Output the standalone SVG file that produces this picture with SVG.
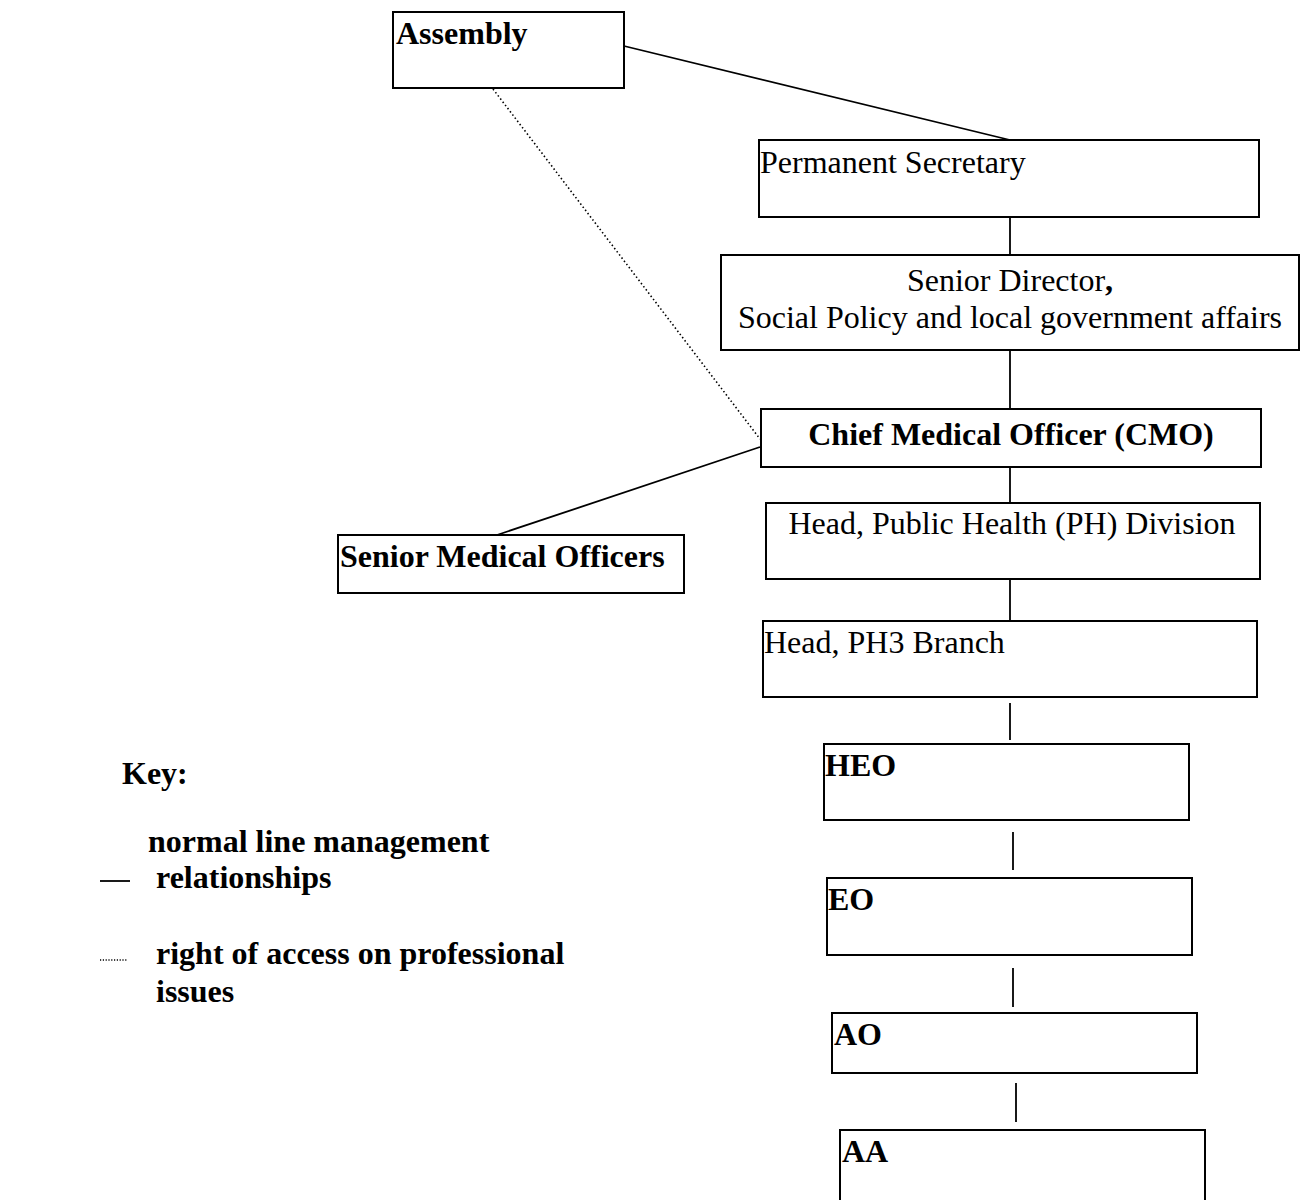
<svg xmlns="http://www.w3.org/2000/svg" width="1302" height="1200" viewBox="0 0 1302 1200">
  <style>
    .box { fill: #ffffff; stroke: #000000; stroke-width: 2; }
    .link { fill: none; stroke: #000000; stroke-width: 1.8; }
    .access { fill: none; stroke: #000000; stroke-width: 1.6; stroke-dasharray: 1.5 2.5; }
    .access-key { fill: none; stroke: #000000; stroke-width: 1.4; stroke-dasharray: 1.2 1.6; }
    text { font-family: "Liberation Serif", "Times New Roman", serif; font-size: 32px; fill: #000000; }
    .b { font-weight: bold; }
  </style>
  <rect width="1302" height="1200" fill="#ffffff"/>

  <!-- connectors -->
  <g id="connectors">
    <line class="link" x1="624" y1="46" x2="1010" y2="140"/>
    <line class="access" x1="493" y1="89" x2="760" y2="439"/>
    <line class="link" x1="497" y1="535" x2="760" y2="447"/>
    <line class="link" x1="1010" y1="218" x2="1010" y2="255"/>
    <line class="link" x1="1010" y1="350" x2="1010" y2="409"/>
    <line class="link" x1="1010" y1="467" x2="1010" y2="503"/>
    <line class="link" x1="1010" y1="579" x2="1010" y2="621"/>
    <line class="link" x1="1010" y1="703" x2="1010" y2="740"/>
    <line class="link" x1="1013" y1="832" x2="1013" y2="870"/>
    <line class="link" x1="1013" y1="968" x2="1013" y2="1007"/>
    <line class="link" x1="1016" y1="1083" x2="1016" y2="1122"/>
  </g>

  <g id="assembly">
    <rect class="box" x="393" y="12" width="231" height="76"/>
    <text class="b" x="396" y="44">Assembly</text>
  </g>

  <g id="permanent-secretary">
    <rect class="box" x="759" y="140" width="500" height="77"/>
    <text x="760" y="173">Permanent Secretary</text>
  </g>

  <g id="senior-director">
    <rect class="box" x="721" y="255" width="578" height="95"/>
    <text x="1010" y="291" text-anchor="middle">Senior Director<tspan class="b">,</tspan></text>
    <text x="1010" y="328" text-anchor="middle">Social Policy and local government affairs</text>
  </g>

  <g id="cmo">
    <rect class="box" x="761" y="409" width="500" height="58"/>
    <text class="b" x="1011" y="445" text-anchor="middle">Chief Medical Officer (CMO)</text>
  </g>

  <g id="senior-medical-officers">
    <rect class="box" x="338" y="535" width="346" height="58"/>
    <text class="b" x="340" y="567">Senior Medical Officers</text>
  </g>

  <g id="head-ph-division">
    <rect class="box" x="766" y="503" width="494" height="76"/>
    <text x="1012" y="534" text-anchor="middle">Head, Public Health (PH) Division</text>
  </g>

  <g id="head-ph3-branch">
    <rect class="box" x="763" y="621" width="494" height="76"/>
    <text x="764" y="653">Head, PH3 Branch</text>
  </g>

  <g id="heo">
    <rect class="box" x="824" y="744" width="365" height="76"/>
    <text class="b" x="825" y="776">HEO</text>
  </g>

  <g id="eo">
    <rect class="box" x="827" y="878" width="365" height="77"/>
    <text class="b" x="828" y="910">EO</text>
  </g>

  <g id="ao">
    <rect class="box" x="832" y="1013" width="365" height="60"/>
    <text class="b" x="834" y="1045">AO</text>
  </g>

  <g id="aa">
    <rect class="box" x="840" y="1130" width="365" height="90"/>
    <text class="b" x="842" y="1162">AA</text>
  </g>

  <!-- legend -->
  <g id="key">
    <text class="b" x="122" y="784">Key:</text>
    <line class="link" x1="100" y1="881" x2="130" y2="881" stroke-width="2"/>
    <text class="b" x="148" y="852">normal line management</text>
    <text class="b" x="156" y="888">relationships</text>
    <line class="access-key" x1="100" y1="960" x2="128" y2="960"/>
    <text class="b" x="156" y="964">right of access on professional</text>
    <text class="b" x="156" y="1002">issues</text>
  </g>
</svg>
